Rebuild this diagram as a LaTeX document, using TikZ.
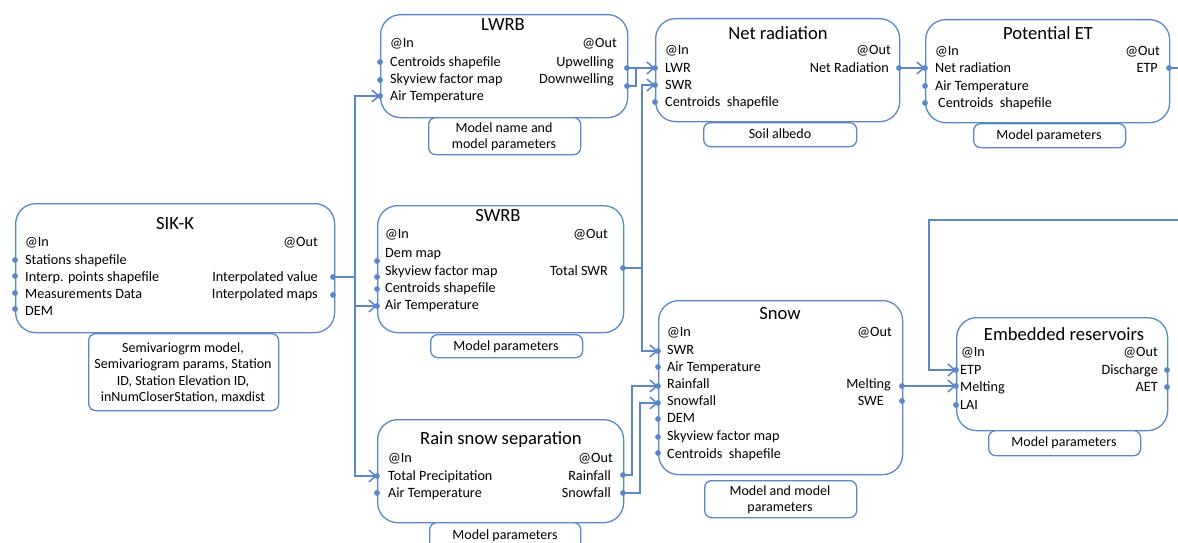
\documentclass[tikz,border=0pt]{standalone}
\usepackage{fontspec}
\setmainfont{Carlito}
\usetikzlibrary{arrows.meta}
\definecolor{lc}{HTML}{5A87C9}
\begin{document}
\begin{tikzpicture}[x=1pt,y=-1pt,
  mbox/.style={draw=lc, line width=1.3pt, rounded corners=20pt, fill=white, anchor=north west, inner sep=0},
  pbox/.style={draw=lc, line width=1.3pt, rounded corners=7pt, fill=white, anchor=north west, inner sep=0},
  ttl/.style={font=\fontsize{18.6}{21}\selectfont, inner sep=0, yshift=-1pt},
  lt/.style={font=\fontsize{14.2}{16}\selectfont, inner sep=0, anchor=west, text height=10pt, text depth=3.4pt, yshift=-1.3pt},
  rt/.style={lt, anchor=east},
  ptxt/.style={font=\fontsize{14}{16.2}\selectfont, align=center, inner sep=0, yshift=-1pt},
  dot/.style={circle, fill=lc, inner sep=0, minimum size=5.8pt},
  conn/.style={draw=lc, line width=1.5pt},
  arr/.style={conn, -{Straight Barb[length=7pt,width=12pt]}}]
\useasboundingbox (0,0) rectangle (1178,543);
% ---------- main boxes ----------
\node[mbox, minimum width=319pt, minimum height=129pt] (sik) at (15,203) {};
\node[mbox, minimum width=247pt, minimum height=103pt] (lwrb) at (380,14) {};
\node[mbox, minimum width=246pt, minimum height=127pt] (swrb) at (377,205) {};
\node[mbox, minimum width=246pt, minimum height=103pt] (rain) at (377,419) {};
\node[mbox, minimum width=244pt, minimum height=103pt] (net) at (655,18) {};
\node[mbox, minimum width=244pt, minimum height=103pt] (pet) at (925,19) {};
\node[mbox, minimum width=244pt, minimum height=174pt] (snow) at (658,300) {};
\node[mbox, minimum width=211pt, minimum height=113pt] (emb) at (956,317) {};
% ---------- parameter boxes ----------
\node[pbox, minimum width=190pt, minimum height=77pt] (sikp) at (88,333) {};
\node[pbox, minimum width=152pt, minimum height=37pt] (lwrbp) at (428,117) {};
\node[pbox, minimum width=152pt, minimum height=23pt] (swrbp) at (430,334) {};
\node[pbox, minimum width=151pt, minimum height=30pt] (rainp) at (429,522) {};
\node[pbox, minimum width=153pt, minimum height=24pt] (netp) at (703,122) {};
\node[pbox, minimum width=152pt, minimum height=24pt] (petp) at (973,123) {};
\node[pbox, minimum width=152pt, minimum height=37pt] (snowp) at (704,480) {};
\node[pbox, minimum width=152pt, minimum height=25pt] (embp) at (988,430) {};
% ---------- SIK-K ----------
\node[ttl] (sikT) at (175,223) {SIK-K};
\node[lt] (sikIn) at (25,242) {@In};
\node[rt] (sikOut) at (318,242) {@Out};
\node[lt] (sikL1) at (25,260) {Stations shapefile};
\node[lt] (sikL2) at (25,277) {Interp. points shapefile};
\node[lt] (sikL3) at (25,294) {Measurements Data};
\node[lt] (sikL4) at (25,311) {DEM};
\node[rt] (sikR1) at (318,277) {Interpolated value};
\node[rt] (sikR2) at (318,294) {Interpolated maps};
\node[ptxt] (sikPT) at (183,372) {Semivariogrm model,\\Semivariogram params, Station\\ID, Station Elevation ID,\\inNumCloserStation, maxdist};
\node[dot] (sikd1) at (15,260) {};
\node[dot] (sikd2) at (15,276) {};
\node[dot] (sikd3) at (15,293) {};
\node[dot] (sikd4) at (15,309) {};
\node[dot] (sikIV) at (333,277) {};
\node[dot] (sikIM) at (333,295) {};
% ---------- LWRB ----------
\node[ttl] (lwrbT) at (503,24) {LWRB};
\node[lt] (lwrbIn) at (390,43) {@In};
\node[rt] (lwrbOut) at (617,43) {@Out};
\node[lt] (lwrbL1) at (390,62) {Centroids shapefile};
\node[lt] (lwrbL2) at (390,79) {Skyview factor map};
\node[lt] (lwrbL3) at (390,96) {Air Temperature};
\node[rt] (lwrbR1) at (614,62) {Upwelling};
\node[rt] (lwrbR2) at (614,79) {Downwelling};
\node[ptxt] (lwrbPT) at (504,136) {Model name and\\model parameters};
\node[dot] (lwrbd1) at (380,62) {};
\node[dot] (lwrbd2) at (380,80) {};
\node[dot] (lwrbAT) at (380,96) {};
\node[dot] (lwrbUp) at (627,68) {};
\node[dot] (lwrbDn) at (627,86) {};
% ---------- SWRB ----------
\node[ttl] (swrbT) at (498,215) {SWRB};
\node[lt] (swrbIn) at (385,234) {@In};
\node[rt] (swrbOut) at (608,234) {@Out};
\node[lt] (swrbL1) at (385,253) {Dem map};
\node[lt] (swrbL2) at (385,271) {Skyview factor map};
\node[lt] (swrbL3) at (385,288) {Centroids shapefile};
\node[lt] (swrbL4) at (385,305) {Air Temperature};
\node[rt] (swrbR1) at (608,271) {Total SWR};
\node[ptxt] (swrbPT) at (506,346) {Model parameters};
\node[dot] (swrbd1) at (377,261) {};
\node[dot] (swrbd2) at (377,277) {};
\node[dot] (swrbd3) at (377,289) {};
\node[dot] (swrbAT) at (377,306) {};
\node[dot] (swrbTot) at (623,268) {};
% ---------- Rain snow separation ----------
\node[ttl] (rainT) at (501,439) {Rain snow separation};
\node[lt] (rainIn) at (388,458) {@In};
\node[rt] (rainOut) at (613,458) {@Out};
\node[lt] (rainL1) at (388,476) {Total Precipitation};
\node[lt] (rainL2) at (388,493) {Air Temperature};
\node[rt] (rainR1) at (611,476) {Rainfall};
\node[rt] (rainR2) at (611,493) {Snowfall};
\node[ptxt] (rainPT) at (505,535) {Model parameters};
\node[dot] (rainTP) at (377,476) {};
\node[dot] (raind2) at (377,493) {};
\node[dot] (rainRf) at (623,475) {};
\node[dot] (rainSf) at (623,493) {};
% ---------- Net radiation ----------
\node[ttl] (netT) at (778,32) {Net radiation};
\node[lt] (netIn) at (665,50) {@In};
\node[rt] (netOut) at (891,50) {@Out};
\node[lt] (netL1) at (665,68) {LWR};
\node[lt] (netL2) at (665,85) {SWR};
\node[lt] (netL3) at (665,102) {Centroids\ \ shapefile};
\node[rt] (netR1) at (889,68) {Net Radiation};
\node[ptxt] (netPT) at (780,133) {Soil albedo};
\node[dot] (netLWR) at (655,68) {};
\node[dot] (netSWR) at (655,85) {};
\node[dot] (netd3) at (655,102) {};
\node[dot] (netNR) at (899,68) {};
% ---------- Potential ET ----------
\node[ttl] (petT) at (1048,32) {Potential ET};
\node[lt] (petIn) at (935,51) {@In};
\node[rt] (petOut) at (1160,51) {@Out};
\node[lt] (petL1) at (935,68) {Net radiation};
\node[lt] (petL2) at (935,86) {Air Temperature};
\node[lt] (petL3) at (938,103) {Centroids\ \ shapefile};
\node[rt] (petR1) at (1158,68) {ETP};
\node[ptxt] (petPT) at (1049,135) {Model parameters};
\node[dot] (petNR) at (925,68) {};
\node[dot] (petd2) at (925,86) {};
\node[dot] (petd3) at (925,103) {};
\node[dot] (petETP) at (1169,68) {};
% ---------- Snow ----------
\node[ttl] (snowT) at (780,313) {Snow};
\node[lt] (snowIn) at (667,332) {@In};
\node[rt] (snowOut) at (892,332) {@Out};
\node[lt] (snowL1) at (667,350) {SWR};
\node[lt] (snowL2) at (667,367) {Air Temperature};
\node[lt] (snowL3) at (667,384) {Rainfall};
\node[lt] (snowL4) at (667,401) {Snowfall};
\node[lt] (snowL5) at (667,418) {DEM};
\node[lt] (snowL6) at (667,436) {Skyview factor map};
\node[lt] (snowL7) at (667,454) {Centroids\ \ shapefile};
\node[rt] (snowR1) at (891,384) {Melting};
\node[rt] (snowR2) at (884,401) {SWE};
\node[ptxt] (snowPT) at (780,499) {Model and model\\parameters};
\node[dot] (snowSWR) at (658,351) {};
\node[dot] (snowd2) at (658,367) {};
\node[dot] (snowRf) at (658,386) {};
\node[dot] (snowSf) at (658,403) {};
\node[dot] (snowd5) at (658,419) {};
\node[dot] (snowd6) at (658,437) {};
\node[dot] (snowd7) at (658,453) {};
\node[dot] (snowMelt) at (902,386) {};
\node[dot] (snowSWE) at (902,401) {};
% ---------- Embedded reservoirs ----------
\node[ttl] (embT) at (1064,333) {Embedded reservoirs};
\node[lt] (embIn) at (961,352) {@In};
\node[rt] (embOut) at (1158,352) {@Out};
\node[lt] (embL1) at (960,370) {ETP};
\node[lt] (embL2) at (960,387) {Melting};
\node[lt] (embL3) at (960,405) {LAI};
\node[rt] (embR1) at (1158,370) {Discharge};
\node[rt] (embR2) at (1158,387) {AET};
\node[ptxt] (embPT) at (1064,442) {Model parameters};
\node[dot] (embETP) at (956,370) {};
\node[dot] (embMelt) at (956,386) {};
\node[dot] (embd3) at (956,405) {};
\node[dot] (embQ) at (1167,370) {};
\node[dot] (embAET) at (1167,387) {};
% ---------- junction coordinates ----------
\coordinate (sikBus) at (355,277);
\coordinate (lwrbJ) at (636,68);
\coordinate (swrbBus) at (642,268);
\coordinate (rainBendA) at (632,475);
\coordinate (rainBendB) at (640,493);
\coordinate (petEdge) at (1178,68);
\coordinate (embEdge) at (1178,220);
\coordinate (embBend) at (929,220);
% ---------- connectors ----------
\draw[conn] (sikIV.center) -- (sikBus);
\draw[arr] (sikBus) |- (lwrbAT.center);
\draw[arr] (sikBus) |- (swrbAT.center);
\draw[arr] (sikBus) |- (rainTP.center);
\draw[arr] (lwrbUp.center) -- (netLWR.center);
\draw[conn] (lwrbDn.center) -| (lwrbJ);
\draw[conn] (swrbTot.center) -- (swrbBus);
\draw[arr] (swrbBus) |- (netSWR.center);
\draw[arr] (swrbBus) |- (snowSWR.center);
\draw[arr] (rainRf.center) -- (rainBendA) |- (snowRf.center);
\draw[arr] (rainSf.center) -- (rainBendB) |- (snowSf.center);
\draw[arr] (netNR.center) -- (petNR.center);
\draw[conn] (petETP.center) -- (petEdge);
\draw[arr] (embEdge) -- (embBend) |- (embETP.center);
\draw[arr] (snowMelt.center) -- (embMelt.center);
\end{tikzpicture}
\end{document}
